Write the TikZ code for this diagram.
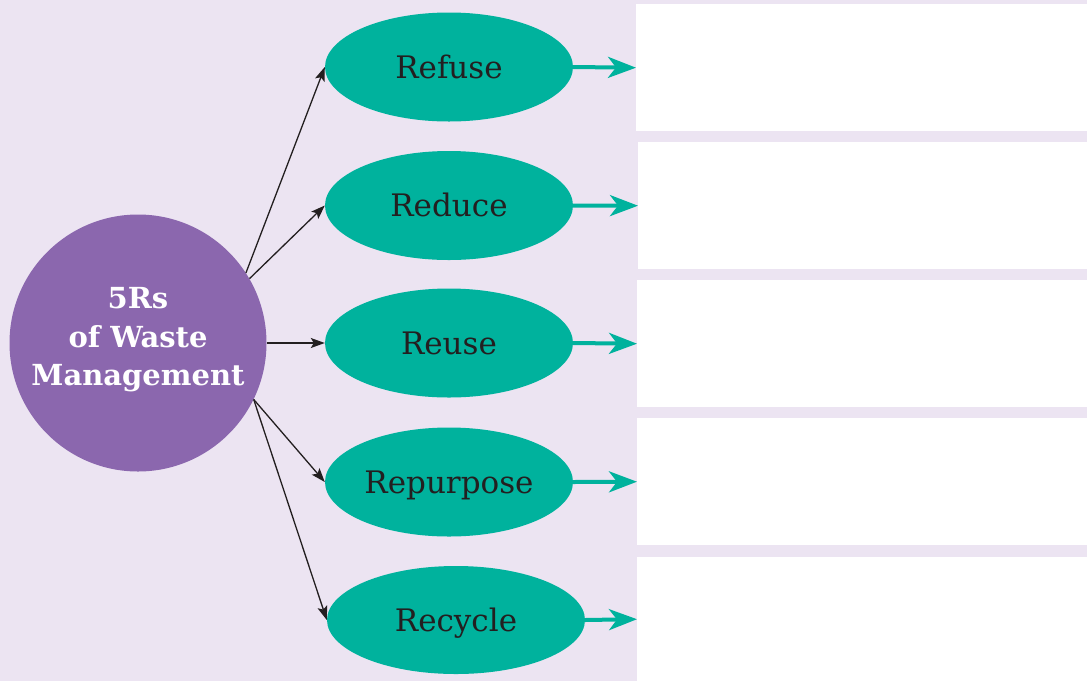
\documentclass[tikz,border=0pt]{standalone}
\usepackage{fontspec}
\setmainfont{DejaVu Serif}
\usetikzlibrary{shapes.geometric,arrows.meta}
\definecolor{bgl}{RGB}{236,228,242}
\definecolor{purp}{RGB}{139,103,174}
\definecolor{teal5}{RGB}{0,178,157}
\definecolor{ink}{RGB}{35,31,32}
\tikzset{
  rbox/.style={draw=none,fill=white,rectangle,anchor=north west,inner sep=0pt,minimum width=451pt},
  rell/.style={ellipse,fill=teal5,draw=none,inner sep=0pt,minimum width=248pt,minimum height=109pt,
    font=\fontsize{31}{31}\selectfont,text=ink,text height=22.5pt,text depth=0pt},
  blk/.style={draw=ink,line width=1.3pt,-{Stealth[length=14pt,width=10pt,inset=3pt]}},
  grn/.style={draw=teal5,line width=4pt,-{Stealth[length=28pt,width=21pt,inset=8pt]}},
}
\begin{document}
\begin{tikzpicture}[x=1pt,y=-1pt]
\fill[bgl] (0,0) rectangle (1087,681);
\useasboundingbox (0,0) rectangle (1087,681);
\node[rbox,minimum height=127pt] (b1) at (636,4) {};
\node[rbox,minimum height=127pt] (b2) at (638,142) {};
\node[rbox,minimum height=127pt] (b3) at (637,280) {};
\node[rbox,minimum height=127pt] (b4) at (637,418) {};
\node[rbox,minimum height=124pt] (b5) at (637,557) {};
\node[circle,fill=purp,draw=none,minimum size=257pt,inner sep=0pt] (c) at (138,343) {};
\node[font=\fontsize{29}{38.5}\selectfont\bfseries,text=white,align=center,inner sep=0pt] (ct) at (138,340) {5Rs\\of Waste\\Management};
\node[rell] (e1) at (449,67) {Refuse};
\node[rell] (e2) at (449,205.5) {Reduce};
\node[rell] (e3) at (449,343) {Reuse};
\node[rell] (e4) at (449,482) {Repurpose};
\node[rell,minimum width=258pt,minimum height=108pt] (e5) at (456,620) {Recycle};
\draw[blk] (c.33) -- (e1.west);
\draw[blk] (c.30) -- (e2.west);
\draw[blk] (c.east) -- (e3.west);
\draw[blk] (c.-26.4) -- (e4.west);
\draw[blk] (c.-26.4) -- (e5.west);
\draw[grn] (e1.east) -- (b1.west);
\draw[grn] (e2.east) -- (b2.west);
\draw[grn] (e3.east) -- (b3.west);
\draw[grn] (e4.east) -- (b4.west);
\draw[grn] (e5.east) -- (b5.west);
\end{tikzpicture}
\end{document}
